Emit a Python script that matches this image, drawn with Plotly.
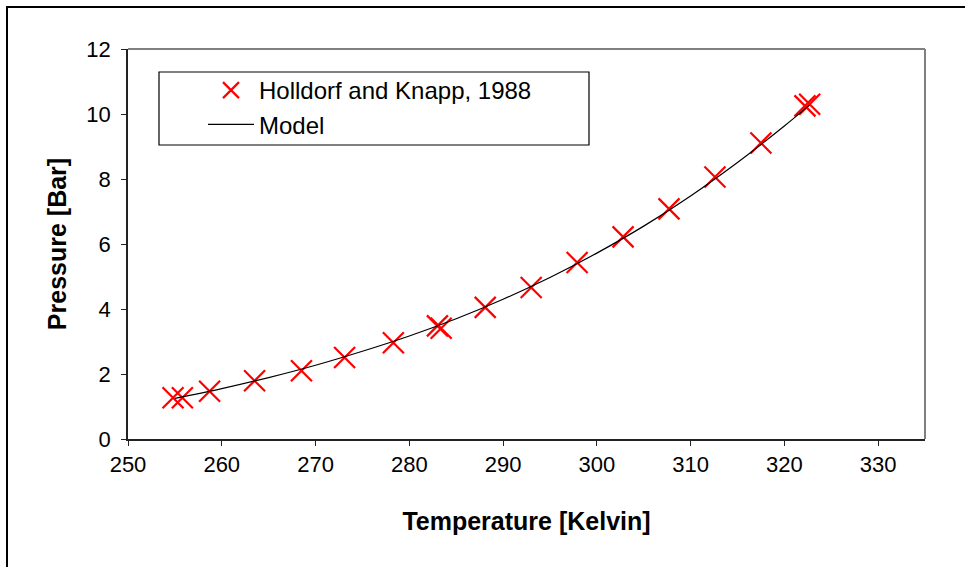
import plotly.graph_objects as go

# Measured vapour pressure (Holldorf and Knapp, 1988)
temp_k = [254.8, 255.8, 258.7, 263.5, 268.5, 273.1, 278.3, 283.0, 283.4,
          288.1, 293.0, 297.9, 302.8, 307.7, 312.6, 317.5, 322.2, 322.7]
pressure_bar = [1.27, 1.27, 1.47, 1.79, 2.10, 2.51, 2.96, 3.48, 3.41,
                4.05, 4.66, 5.43, 6.22, 7.08, 8.06, 9.11, 10.25, 10.30]

# Model curve
model_t = [255, 260, 265, 270, 275, 280, 285, 290, 295, 300, 305, 310, 315, 320, 322.7]
model_p = [1.25, 1.55, 1.89, 2.27, 2.70, 3.17, 3.70, 4.30, 4.97, 5.72, 6.55, 7.48,
           8.51, 9.63, 10.28]

x_ticks = [250, 260, 270, 280, 290, 300, 310, 320, 330]
y_ticks = [0, 2, 4, 6, 8, 10, 12]

FONT = "Liberation Sans, Arial, sans-serif"

W, H = 965, 567
L, R, T, B = 128, 40, 49, 128
pw, ph = W - L - R, H - T - B


def px_x(p):
    return (p - L) / pw


def px_y(p):
    return 1 - (p - T) / ph


fig = go.Figure()
fig.add_trace(go.Scatter(
    x=temp_k, y=pressure_bar, mode="markers", name="Holldorf and Knapp, 1988",
    marker=dict(symbol="x-thin", size=21, color="red",
                line=dict(color="red", width=2.2)),
))
fig.add_trace(go.Scatter(
    x=model_t, y=model_p, mode="lines", name="Model", line_shape="spline",
    line=dict(color="black", width=1.2),
))

axis_common = dict(
    showgrid=False, zeroline=False, showline=True, linecolor="#222",
    linewidth=1.5, ticks="outside", ticklen=5, tickwidth=1.2, tickcolor="#222",
    tickfont=dict(family=FONT, size=22, color="black"),
)

fig.update_layout(
    width=W, height=H,
    margin=dict(l=L, r=R, t=T, b=B, autoexpand=False),
    paper_bgcolor="white", plot_bgcolor="white",
    xaxis=dict(range=[250, 335], tickvals=x_ticks, **axis_common,
               title=dict(text="<b>Temperature [Kelvin]</b>", standoff=36,
                          font=dict(family=FONT, size=25, color="black"))),
    yaxis=dict(range=[0, 12], tickvals=y_ticks, ticklabelstandoff=6, **axis_common,
               title=dict(text="<b>Pressure [Bar]</b>", standoff=13,
                          font=dict(family=FONT, size=25, color="black"))),
    legend=dict(x=px_x(203), y=px_y(68), xanchor="left", yanchor="top",
                bgcolor="rgba(0,0,0,0)", borderwidth=0,
                font=dict(family=FONT, size=24, color="black"),
                tracegroupgap=0, itemwidth=46),
    showlegend=True,
    shapes=[
        # outer chart frame
        dict(type="rect", xref="paper", yref="paper",
             x0=px_x(7), x1=px_x(1100), y0=px_y(7), y1=px_y(800),
             line=dict(color="black", width=2), layer="below"),
        # plot area top and right border
        dict(type="line", xref="paper", yref="paper", x0=0, x1=1, y0=1, y1=1,
             line=dict(color="#808080", width=2), layer="below"),
        dict(type="line", xref="paper", yref="paper", x0=1, x1=1, y0=0, y1=1,
             line=dict(color="#808080", width=2), layer="below"),
        # legend box
        dict(type="rect", xref="paper", yref="paper",
             x0=px_x(159), x1=px_x(589), y0=px_y(145), y1=px_y(72),
             line=dict(color="black", width=1.2), fillcolor="white", layer="below"),
    ],
)

fig.write_html("out.html")
